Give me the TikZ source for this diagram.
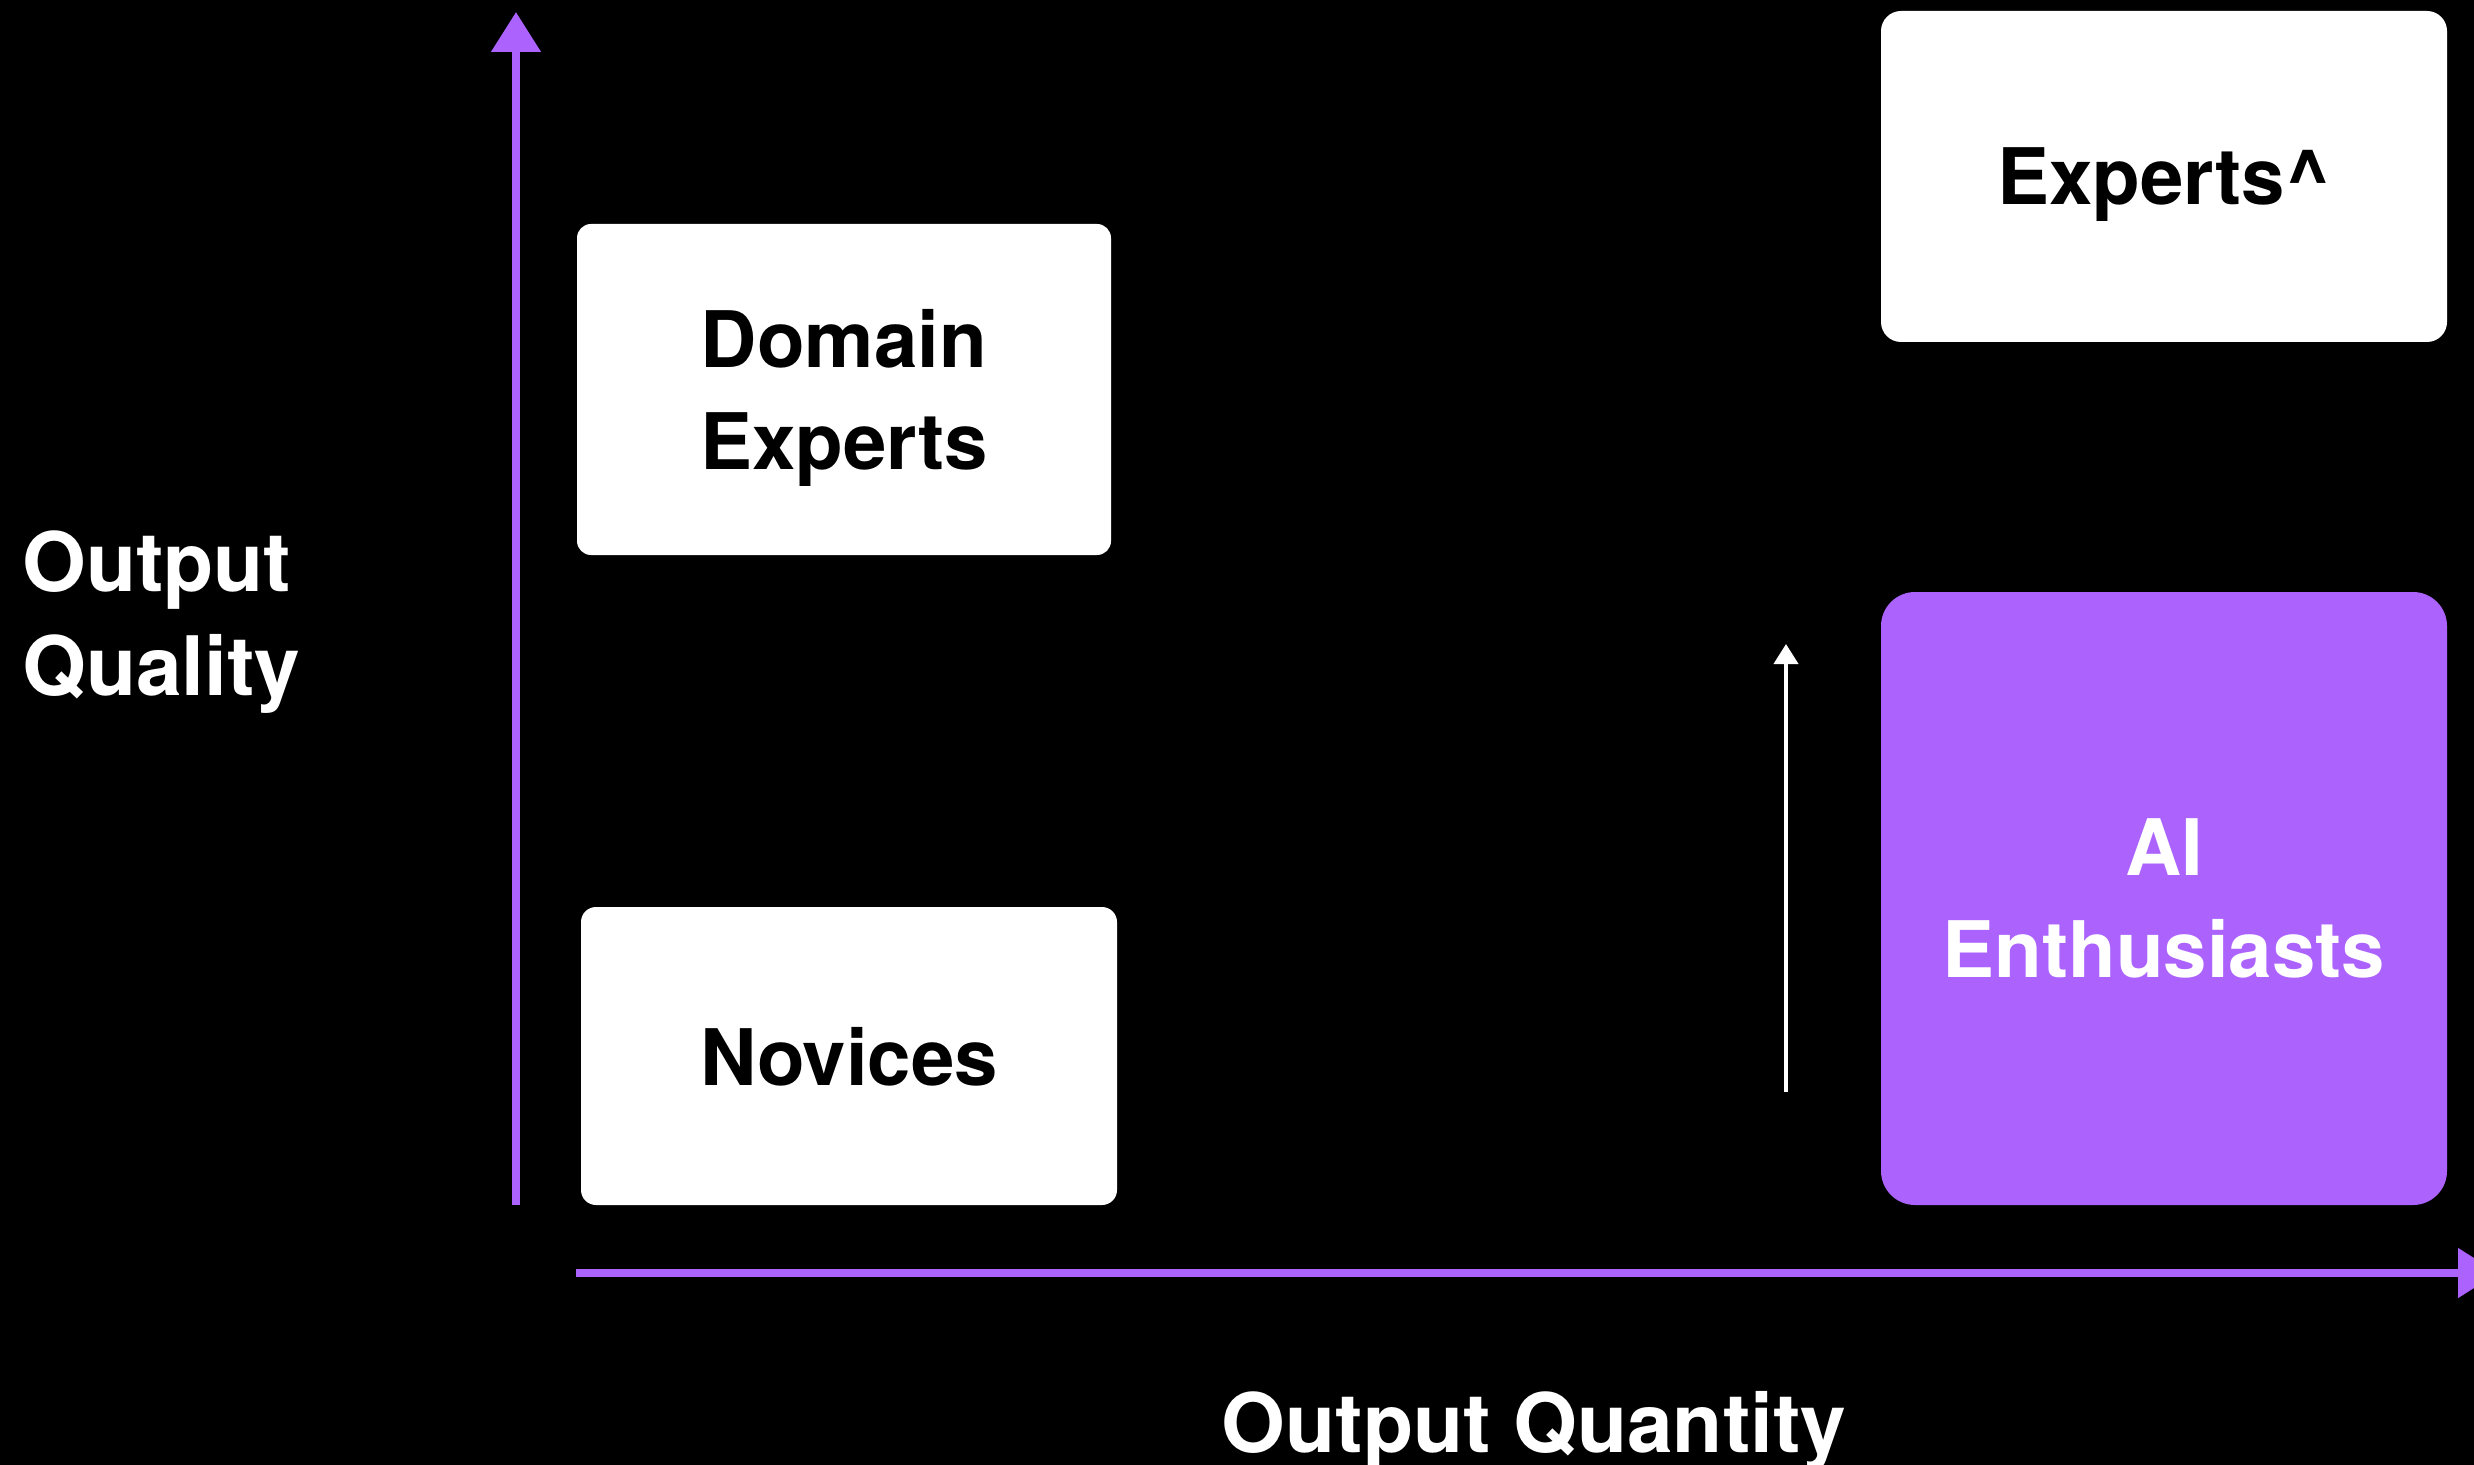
\documentclass[tikz,border=0pt]{standalone}
\usepackage{fontspec}
\setmainfont{TeX Gyre Heros}
\usetikzlibrary{arrows.meta}
\definecolor{accent}{HTML}{AC63FD}
\begin{document}
\begin{tikzpicture}[x=0.5pt, y=-0.5pt,
  cardtext/.style={font=\bfseries\fontsize{39}{51}\selectfont},
  labeltext/.style={font=\bfseries\fontsize{41}{52}\selectfont},
  card/.style={cardtext, fill=white, text=black, inner sep=0pt, align=center, text depth=-4pt},
  hicard/.style={card, fill=accent, text=white},
  axislabel/.style={labeltext, text=white, inner sep=0pt},
  axis/.style={draw=accent, line width=4pt, -{Triangle[length=20pt, width=24pt]}},
  riser/.style={draw=white, line width=2pt, -{Triangle[length=10pt, width=12pt]}}]

  % canvas
  \fill[black] (0,0) rectangle (2474,1465);
  \useasboundingbox (0,0) rectangle (2474,1465);

  % axes
  \coordinate (ybot) at (516,1205);
  \coordinate (ytop) at (516,12);
  \coordinate (xleft) at (576,1273);
  \coordinate (xright) at (2498,1273);
  \draw[axis] (ybot) -- (ytop);
  \draw[axis] (xleft) -- (xright);

  % axis labels
  \node[axislabel, align=left, anchor=north west] (ylabel) at (22,530) {Output\\Quality};
  \node[axislabel, anchor=base] (xlabel) at (1534,1452) {Output Quantity};

  % groups
  \node[card, minimum width=267pt, minimum height=165.5pt, rounded corners=7pt]
    (domain) at (844,389.5) {Domain\\Experts};
  \node[card, minimum width=268pt, minimum height=149pt, rounded corners=7.5pt]
    (novices) at (849,1056) {Novices};
  \node[card, minimum width=283pt, minimum height=165.5pt, rounded corners=10pt]
    (expertsup) at (2164,176.5) {Experts\textasciicircum};
  \node[hicard, minimum width=283pt, minimum height=306.5pt, rounded corners=17pt]
    (aienth) at (2164,898.5) {AI\\Enthusiasts};

  % upward shift
  \coordinate (shiftlow) at (1786,1092);
  \coordinate (shifthigh) at (1786,644);
  \draw[riser] (shiftlow) -- (shifthigh);
\end{tikzpicture}
\end{document}
